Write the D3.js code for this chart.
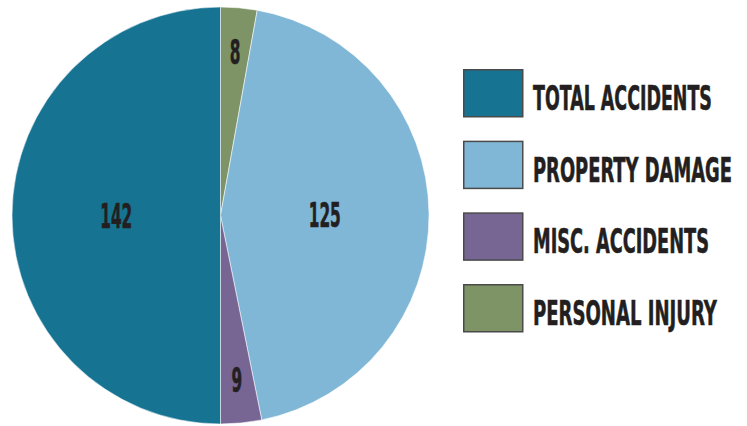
<!DOCTYPE html>
<html>
<head>
<meta charset="utf-8">
<script src="https://cdn.jsdelivr.net/npm/d3@7"></script>
<style>
  html, body { margin: 0; padding: 0; background: #ffffff; }
  svg { display: block; }
</style>
</head>
<body>
<svg id="chart" width="747" height="426"></svg>
<script>
// Data (drawing order clockwise from 12 o'clock)
const categories = ["PERSONAL INJURY", "PROPERTY DAMAGE", "MISC. ACCIDENTS", "TOTAL ACCIDENTS"];
const values = [8, 125, 9, 142];
const colors = ["#7e9467", "#80b6d6", "#776694", "#167392"];
// Legend order
const legendOrder = ["TOTAL ACCIDENTS", "PROPERTY DAMAGE", "MISC. ACCIDENTS", "PERSONAL INJURY"];
const legendWidths = [179, 199, 176, 184];

const svg = d3.select("#chart");
const cx = 220.5, cy = 215.5, R = 208.5;
const total = d3.sum(values);
const font = "'Liberation Sans Narrow', 'DejaVu Sans Condensed', 'Roboto Condensed', sans-serif";

const color = d3.scaleOrdinal().domain(categories).range(colors);

const data = categories.map((c, i) => ({ cat: c, value: values[i] }));
const pie = d3.pie().value(d => d.value).sort(null);
const arcs = pie(data);
const arc = d3.arc().innerRadius(0).outerRadius(R);

const g = svg.append("g").attr("transform", `translate(${cx},${cy})`);
g.selectAll("path").data(arcs).join("path")
  .attr("d", arc)
  .attr("fill", d => color(d.data.cat))
  .attr("stroke", "rgba(255,255,255,0.55)")
  .attr("stroke-width", 1);

function squeeze(sel, targetW) {
  sel.each(function(d, i) {
    const w = this.getComputedTextLength();
    const tw = typeof targetW === "function" ? targetW(d, i) : targetW;
    const s = w > 0 ? tw / w : 1;
    const base = this.getAttribute("data-t") || "";
    this.setAttribute("transform", `${base} scale(${s},1)`);
  });
}

const vals = g.selectAll("text.val").data(arcs).join("text")
  .attr("class", "val")
  .attr("data-t", d => {
    const frac = d.data.value / total;
    const lr = frac < 0.1 ? R * 0.79 : R * 0.5;
    const a = (d.startAngle + d.endAngle) / 2;
    return `translate(${Math.sin(a) * lr},${-Math.cos(a) * lr + 3})`;
  })
  .attr("text-anchor", "middle")
  .attr("dominant-baseline", "middle")
  .attr("font-family", font)
  .attr("font-weight", "bold")
  .attr("font-size", 34)
  .attr("fill", "#231f20")
  .attr("stroke", "#231f20")
  .attr("stroke-width", 0.6)
  .text(d => d.data.value);
squeeze(vals, d => String(d.data.value).length * 10.7);

// Legend
const ly = d3.scalePoint().domain(legendOrder).range([69, 284]);
const lg = svg.append("g");
const items = lg.selectAll("g").data(legendOrder).join("g")
  .attr("transform", d => `translate(463,${ly(d)})`);
items.append("rect")
  .attr("x", 0.75).attr("y", 0.75)
  .attr("width", 59).attr("height", 47)
  .attr("fill", d => color(d))
  .attr("stroke", "#4a4a4a")
  .attr("stroke-width", 1.5);
const ltext = items.append("text")
  .attr("data-t", "translate(70,41)")
  .attr("font-family", font)
  .attr("font-weight", "bold")
  .attr("font-size", 34)
  .attr("fill", "#231f20")
  .attr("stroke", "#231f20")
  .attr("stroke-width", 0.6)
  .text(d => d);
squeeze(ltext, (d, i) => legendWidths[i]);
</script>
</body>
</html>
